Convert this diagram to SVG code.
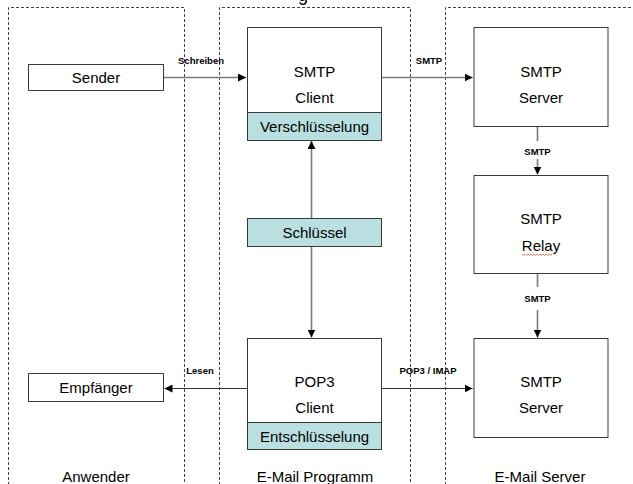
<svg xmlns="http://www.w3.org/2000/svg" width="633" height="484" viewBox="0 0 633 484">
<defs>
<style>
.region{fill:none;stroke:#444;stroke-width:1;stroke-dasharray:3 2}
.box{fill:#fff;stroke:#3a3a3a;stroke-width:1}
.band{fill:#b9dfe1;stroke:#3a3a3a;stroke-width:1}
.t{font-family:"Liberation Sans",Arial,sans-serif;font-size:15px;fill:#000;text-anchor:middle}
.s{font-family:"Liberation Sans",Arial,sans-serif;font-size:9.5px;font-weight:bold;fill:#000;text-anchor:middle}
.c{fill:none;stroke:#7a7a7a;stroke-width:1.6}
.c2{fill:none;stroke:#333;stroke-width:1}
</style>
<marker id="ah" viewBox="0 0 10 10" refX="10" refY="5" markerWidth="8" markerHeight="8" markerUnits="userSpaceOnUse" orient="auto">
<path d="M0,0 L10,5 L0,10 Z" fill="#000"/>
</marker>
</defs>
<text class="t" x="303" y="0.5" style="font-size:18px">g</text>
<g id="regions">
<path class="region" d="M8.5,490 V7.5 H184.5 V490"/>
<path class="region" d="M219.5,490 V7.5 H410.5 V490"/>
<path class="region" d="M445.5,490 V7.5 H640"/>
</g>
<g id="connectors">
<path class="c" d="M163.5,77.5 H246" marker-end="url(#ah)"/>
<text class="s" x="201" y="63.5">Schreiben</text>
<path class="c" d="M381.5,77.5 H472.5" marker-end="url(#ah)"/>
<text class="s" x="429" y="63.5">SMTP</text>
<path class="c" d="M537.5,126.5 V141"/>
<path class="c" d="M537.5,159 V174.5" marker-end="url(#ah)"/>
<text class="s" x="537.5" y="154.5">SMTP</text>
<path class="c" d="M537.5,273.5 V287"/>
<path class="c" d="M537.5,310 V337.5" marker-end="url(#ah)"/>
<text class="s" x="537.5" y="301.5">SMTP</text>
<path class="c" d="M311.5,218 V141" marker-end="url(#ah)"/>
<path class="c" d="M311.5,246 V337.5" marker-end="url(#ah)"/>
<path class="c2" d="M247,388.5 H164.5" marker-end="url(#ah)"/>
<text class="s" x="200" y="373.5">Lesen</text>
<path class="c2" d="M381.5,388.5 H472.5" marker-end="url(#ah)"/>
<text class="s" x="428" y="373.5">POP3 / IMAP</text>
</g>
<g id="sender">
<rect class="box" x="28.5" y="64.5" width="135" height="26"/>
<text class="t" x="96" y="83">Sender</text>
</g>
<g id="smtp-client">
<rect class="box" x="247.5" y="27.5" width="134" height="85"/>
<rect class="band" x="247.5" y="112.5" width="134" height="28"/>
<text class="t" x="314.5" y="76.5">SMTP</text>
<text class="t" x="314.5" y="102.5">Client</text>
<text class="t" x="314.5" y="132">Verschlüsselung</text>
</g>
<g id="smtp-server-1">
<rect class="box" x="474" y="27.5" width="134" height="99"/>
<text class="t" x="541" y="76.5">SMTP</text>
<text class="t" x="541" y="102.5">Server</text>
</g>
<g id="smtp-relay">
<rect class="box" x="474" y="175.5" width="134" height="98"/>
<text class="t" x="541" y="223.5">SMTP</text>
<text class="t" x="541" y="251">Relay</text>
<path d="M522,254 l1.5,1.5 l1.5,-1.5 l1.5,1.5 l1.5,-1.5 l1.5,1.5 l1.5,-1.5 l1.5,1.5 l1.5,-1.5 l1.5,1.5 l1.5,-1.5 l1.5,1.5 l1.5,-1.5 l1.5,1.5 l1.5,-1.5 l1.5,1.5 l1.5,-1.5 l1.5,1.5 l1.5,-1.5 l1.5,1.5 l1.5,-1.5" fill="none" stroke="#e04040" stroke-width="0.7"/>
</g>
<g id="schluessel">
<rect class="band" x="247.5" y="218.5" width="134" height="28"/>
<text class="t" x="314.5" y="237.5">Schlüssel</text>
</g>
<g id="pop3-client">
<rect class="box" x="247.5" y="338.5" width="134" height="84"/>
<rect class="band" x="247.5" y="422.5" width="134" height="27"/>
<text class="t" x="314.5" y="386.5">POP3</text>
<text class="t" x="314.5" y="412.5">Client</text>
<text class="t" x="314.5" y="441.5">Entschlüsselung</text>
</g>
<g id="empfaenger">
<rect class="box" x="28.5" y="373.5" width="135" height="28"/>
<text class="t" x="96" y="393">Empfänger</text>
</g>
<g id="smtp-server-2">
<rect class="box" x="474" y="338.5" width="134" height="99"/>
<text class="t" x="541" y="386.5">SMTP</text>
<text class="t" x="541" y="412.5">Server</text>
</g>
<g id="labels">
<text class="t" x="96" y="482">Anwender</text>
<text class="t" x="315" y="482">E-Mail Programm</text>
<text class="t" x="540" y="482">E-Mail Server</text>
</g>
</svg>
